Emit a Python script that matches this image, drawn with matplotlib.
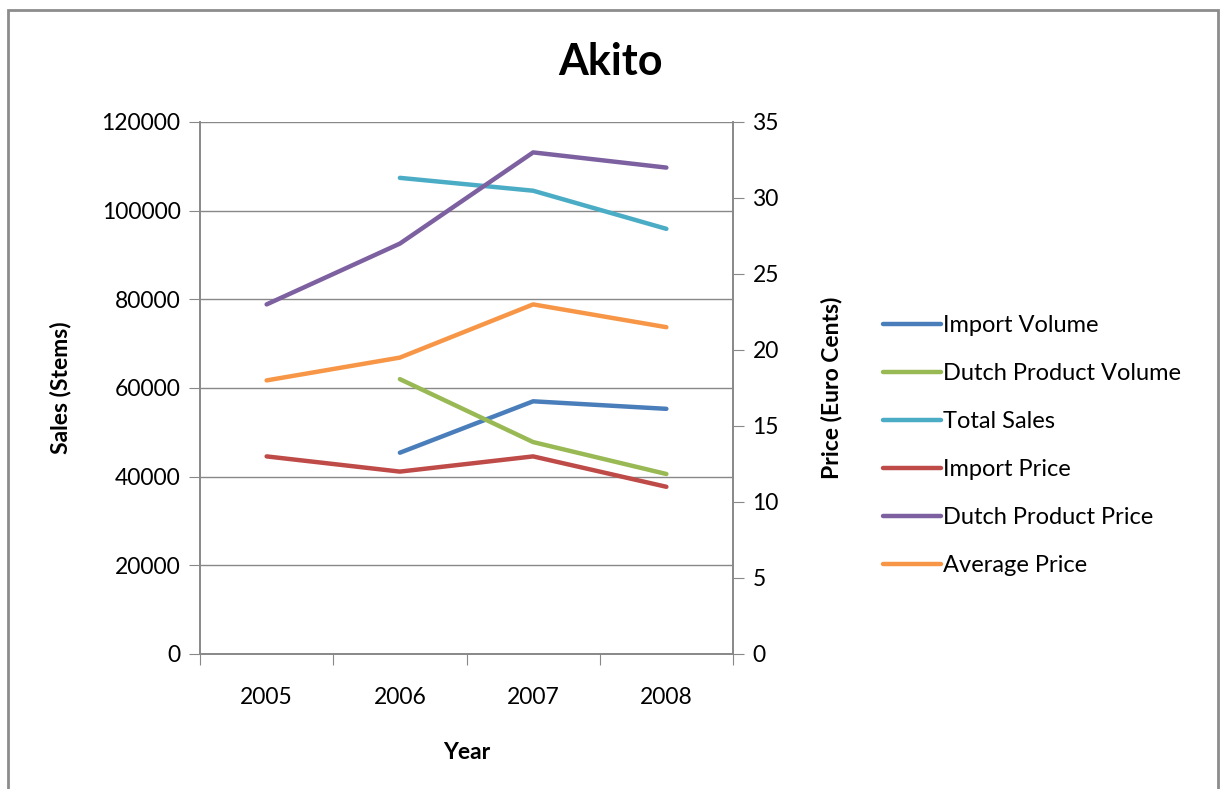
import numpy as np
import matplotlib.pyplot as plt
from matplotlib.patches import Rectangle

plt.rcParams['font.family'] = ['Lato', 'DejaVu Sans']

years = ['2005', '2006', '2007', '2008']
import_volume = [np.nan, 45400, 57000, 55300]
dutch_volume = [np.nan, 62000, 47800, 40600]
total_sales = [np.nan, 107400, 104500, 95900]
import_price = [13.0, 12.0, 13.0, 11.0]
dutch_price = [23.0, 27.0, 33.0, 32.0]
average_price = [18.0, 19.5, 23.0, 21.5]

grey = '#888888'
lw = 3.2

fig = plt.figure(figsize=(12.22, 7.89), dpi=100)
# outer chart frame
fig.patches.append(Rectangle((8 / 1222, -0.05), 1210 / 1222, 1.05 - 10 / 789,
                             transform=fig.transFigure, fill=False,
                             edgecolor='#8c8c8c', linewidth=2))

ax = fig.add_axes([200 / 1222, 1 - 654 / 789, 533 / 1222, 532 / 789])
ax2 = ax.twinx()

x = np.arange(len(years))
h1, = ax.plot(x, import_volume, color='#4A7EBB', lw=lw, label='Import Volume', solid_capstyle='round')
h2, = ax.plot(x, dutch_volume, color='#98B954', lw=lw, label='Dutch Product Volume', solid_capstyle='round')
h3, = ax.plot(x, total_sales, color='#4BACC6', lw=lw, label='Total Sales', solid_capstyle='round')
h4, = ax2.plot(x, import_price, color='#BE4B48', lw=lw, label='Import Price', solid_capstyle='round')
h5, = ax2.plot(x, dutch_price, color='#7D60A0', lw=lw, label='Dutch Product Price', solid_capstyle='round')
h6, = ax2.plot(x, average_price, color='#F79646', lw=lw, label='Average Price', solid_capstyle='round')

ax.set_xlim(-0.5, 3.5)
ax.set_ylim(0, 120000)
ax.set_yticks(np.arange(0, 120001, 20000))
ax2.set_ylim(0, 35)
ax2.set_yticks(np.arange(0, 36, 5))

ax.set_xticks(np.arange(-0.5, 3.6, 1))
ax.set_xticklabels([])
ax.set_xticks(x, minor=True)
ax.set_xticklabels(years, minor=True)
ax.tick_params(axis='x', which='minor', length=0, pad=24, labelsize=16.5)
ax.tick_params(axis='x', which='major', length=8, color=grey, direction='out')
ax.tick_params(axis='y', length=8, color=grey, labelsize=16.5, pad=6)
ax2.tick_params(axis='y', length=8, color=grey, labelsize=16.5, pad=6)

ax.grid(axis='y', color=grey, lw=1)
ax.set_axisbelow(True)
for a in (ax, ax2):
    a.spines['top'].set_visible(False)
    for s in ('left', 'right', 'bottom'):
        a.spines[s].set_color(grey)
        a.spines[s].set_linewidth(1.2)

ax.set_ylabel('Sales (Stems)', fontsize=16.5, fontweight='bold', labelpad=22)
ax2.set_ylabel('Price (Euro Cents)', fontsize=16.5, fontweight='bold', labelpad=30)
ax.set_xlabel('Year', fontsize=16.5, fontweight='bold', labelpad=24)

fig.text(610 / 1222, 1 - 62 / 789, 'Akito', ha='center', va='center',
         fontsize=31, fontweight='bold')

fig.legend(handles=[h1, h2, h3, h4, h5, h6], loc='upper left',
           bbox_to_anchor=(862 / 1222, 1 - 294 / 789), frameon=False,
           fontsize=17, handlelength=2.45, handletextpad=0.1, labelspacing=1.14)

plt.savefig('out.png', dpi=100)
